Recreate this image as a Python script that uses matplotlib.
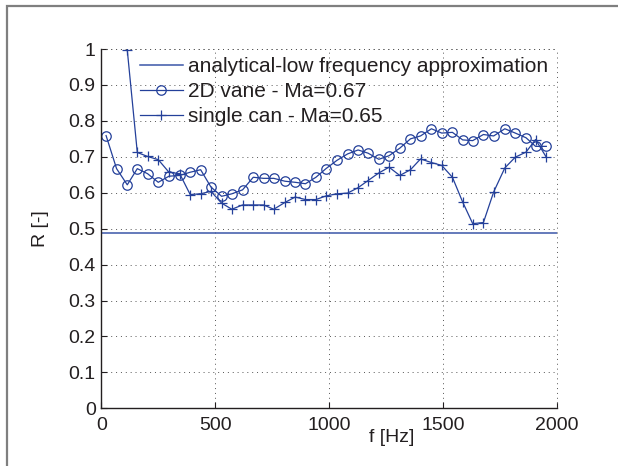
import matplotlib
matplotlib.use("Agg")
import matplotlib.pyplot as plt
from matplotlib.patches import Rectangle
import numpy as np

plt.rcParams['font.family'] = ['Liberation Sans', 'DejaVu Sans']

freq = [21, 67, 114, 158, 203, 250, 297, 344, 390, 436, 481, 528, 573, 620,
        667, 712, 757, 806, 851, 896, 942, 986, 1034, 1081, 1127, 1171, 1218,
        1263, 1310, 1357, 1401, 1449, 1494, 1541, 1586, 1630, 1677, 1722, 1771,
        1817, 1864, 1906, 1953]
vane = [0.759, 0.667, 0.622, 0.667, 0.653, 0.629, 0.646, 0.648, 0.657, 0.664,
        0.616, 0.590, 0.597, 0.608, 0.643, 0.640, 0.640, 0.632, 0.629, 0.625,
        0.643, 0.667, 0.690, 0.708, 0.719, 0.710, 0.693, 0.703, 0.724, 0.750,
        0.758, 0.778, 0.766, 0.768, 0.747, 0.745, 0.762, 0.758, 0.778, 0.766,
        0.753, 0.729, 0.729]
can_freq = freq[2:]
can = [0.997, 0.712, 0.701, 0.692, 0.657, 0.653, 0.595, 0.597, 0.604, 0.571,
       0.554, 0.566, 0.566, 0.566, 0.554, 0.573, 0.588, 0.581, 0.581,
       0.591, 0.597, 0.599, 0.614, 0.634, 0.655, 0.671, 0.648, 0.664, 0.694,
       0.684, 0.676, 0.643, 0.574, 0.514, 0.517, 0.602, 0.669, 0.699, 0.713,
       0.748, 0.699]
analytical_x = [0, 2000]
analytical = [0.488, 0.488]

labels = ['analytical-low frequency approximation', '2D vane - Ma=0.67',
          'single can - Ma=0.65']
xticks = [0, 500, 1000, 1500, 2000]
yticks = [0, 0.1, 0.2, 0.3, 0.4, 0.5, 0.6, 0.7, 0.8, 0.9, 1]
yticklabels = ['0', '0.1', '0.2', '0.3', '0.4', '0.5', '0.6', '0.7', '0.8', '0.9', '1']

txt = '#231f20'
blue = '#24409a'

fig = plt.figure(figsize=(6.18, 4.66), dpi=100)
fig.patches.append(Rectangle((6.5 / 618, -0.1), 1.2, (466 - 6) / 466 + 0.1,
                             transform=fig.transFigure, fill=False,
                             edgecolor='#7f7f7f', linewidth=1.6))
ax = fig.add_axes([101.3 / 618, (466 - 408.3) / 466, (557 - 101.3) / 618,
                   (408.3 - 49) / 466])

ax.plot(analytical_x, analytical, color='#3a56a8', lw=1.1, label=labels[0])
ax.plot(freq, vane, color=blue, lw=0.9, marker='o', ms=6.8, mfc='none',
        mec=blue, mew=0.9, label=labels[1])
ax.plot(can_freq, can, color=blue, lw=0.9, marker='+', ms=7.5, mew=0.9,
        label=labels[2])

ax.set_xlim(0, 2000)
ax.set_ylim(0, 1)
ax.set_xticks(xticks)
ax.set_yticks(yticks)
ax.set_yticklabels(yticklabels)
ax.tick_params(direction='in', length=4, width=0.8, colors=txt,
               labelsize=14, pad=4)
ax.tick_params(axis='x', pad=6)
ax.grid(True, linestyle=(0, (1, 4)), color='#555555', lw=0.7)
for s in ['top', 'right']:
    ax.spines[s].set_visible(False)
for s in ['left', 'bottom']:
    ax.spines[s].set_color(txt)
    ax.spines[s].set_linewidth(1.0)
# dotted "grid" at limits
ax.axhline(1, color='#555555', ls=(0, (1, 4)), lw=0.7, clip_on=False)
ax.axvline(2000, color='#555555', ls=(0, (1, 4)), lw=0.7, clip_on=False)

ax.set_ylabel('R [-]', fontsize=14, color=txt, labelpad=14)
fig.text(392 / 618, 1 - 437 / 466, 'f [Hz]', fontsize=14, color=txt,
         ha='center', va='center')

leg = ax.legend(loc='upper left', bbox_to_anchor=(0.085, 0.978), frameon=False,
                fontsize=15, handlelength=2.05, handletextpad=0.25,
                labelspacing=0.3, borderaxespad=0, borderpad=0)
for t in leg.get_texts():
    t.set_color(txt)

fig.savefig('out.png', dpi=100)
